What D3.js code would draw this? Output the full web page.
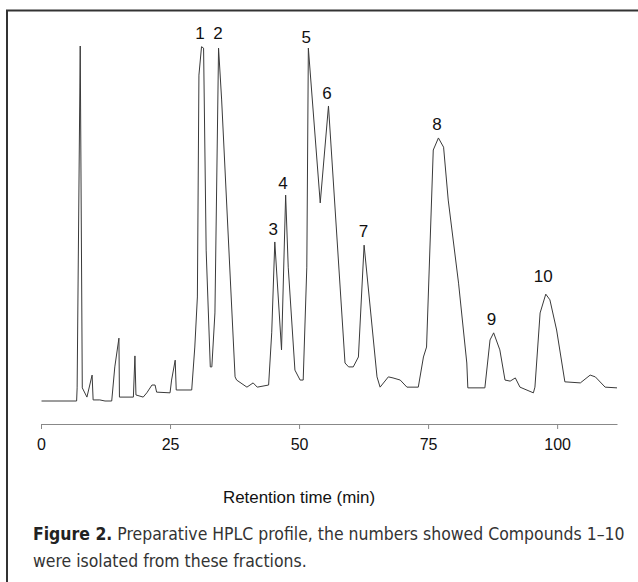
<!DOCTYPE html>
<html>
<head>
<meta charset="utf-8">
<script src="https://cdn.jsdelivr.net/npm/d3@7"></script>
<style>
  html, body { margin: 0; padding: 0; background: #fff; }
  svg { display: block; }
</style>
</head>
<body>
<svg width="638" height="582"></svg>
<script>
// chromatogram trace (time in min, relative signal)
const times = [0.1, 6.9, 7.0, 7.6, 8.0, 8.9, 9.9, 10.1, 11.4, 12.4, 13.7, 14.3, 15.1, 15.2, 17.9, 18.2, 18.4,
  19.8, 20.5, 21.5, 22.1, 22.4, 25.0, 25.3, 26.0, 26.2, 29.2, 29.8, 30.3, 30.6, 31.1, 31.5, 32.0, 32.8,
  33.1, 33.7, 34.4, 35.0, 37.6, 37.9, 39.9, 41.1, 41.9, 44.1, 44.7, 45.3, 46.6, 47.4, 47.9, 49.2, 50.2,
  50.8, 51.5, 51.8, 54.1, 55.7, 58.9, 59.6, 60.5, 61.5, 62.6, 65.1, 65.7, 67.3, 68.2, 69.6, 70.9, 73.1,
  74.1, 74.7, 76.0, 77.0, 78.0, 78.9, 80.9, 82.5, 82.7, 86.0, 87.0, 87.7, 88.9, 89.9, 90.9, 91.9, 92.8,
  95.4, 95.7, 96.7, 97.8, 98.6, 99.9, 101.5, 104.5, 106.4, 107.4, 109.3, 111.6];
const signal = [0, 0, 3.7, 100, 3.7, 1.1, 7.3, 0.3, 0.3, 0, 0, 9.6, 17.7, 1.1, 1.1, 12.7, 1.7,
  1.1, 2.3, 4.5, 4.5, 2.5, 2.3, 5.9, 11.5, 3.1, 3.1, 15.2, 29.3, 91.8, 99.8, 99.4, 42.5, 9.6,
  9.6, 24.8, 99.4, 84.8, 6.8, 5.9, 3.9, 5.1, 3.9, 4.5, 19.2, 44.8, 14.4, 58.0, 37.7, 8.7, 5.9,
  5.9, 37.7, 99.4, 55.8, 83.1, 10.7, 9.6, 9.6, 12.4, 43.9, 6.8, 3.9, 6.8, 6.5, 5.9, 3.9, 3.9,
  12.4, 15.2, 70.7, 74.1, 71.5, 56.6, 33.2, 10.7, 3.7, 3.7, 17.2, 19.2, 14.4, 5.9, 5.6, 6.5, 3.9,
  2.3, 3.9, 24.8, 30.1, 28.5, 20.0, 5.4, 5.1, 7.3, 6.8, 3.9, 3.7];

// compound numbers and where they sit
const compounds = ["1", "2", "3", "4", "5", "6", "7", "8", "9", "10"];
const labelTimes = [30.8, 34.3, 45.0, 46.9, 51.4, 55.4, 62.5, 76.7, 87.3, 97.3];
const labelSignals = [102, 102, 46.8, 59.7, 100.8, 85.1, 46.2, 76.3, 21.4, 33.5];

const xTicks = [0, 25, 50, 75, 100];
const xTitle = "Retention time (min)";
const captionBold = "Figure 2.";
const captionLine1 = " Preparative HPLC profile, the numbers showed Compounds 1\u201310";
const captionLine2 = "were isolated from these fractions.";

const svg = d3.select("svg");

// outer frame, runs off the right and bottom edges
svg.append("rect")
  .attr("x", 7).attr("y", 10.5)
  .attr("width", 700).attr("height", 700)
  .attr("fill", "none")
  .attr("stroke", "#333")
  .attr("stroke-width", 2);

const x = d3.scaleLinear().domain([0, 111.6]).range([41, 617]);
const y = d3.scaleLinear().domain([0, 100]).range([401, 46]);

const pts = times.map((t, i) => [t, signal[i]]);
const line = d3.line().x(d => x(d[0])).y(d => y(d[1]));

svg.append("path")
  .datum(pts)
  .attr("d", line)
  .attr("fill", "none")
  .attr("stroke", "#3a3a3a")
  .attr("stroke-width", 1)
  .attr("stroke-linejoin", "round");

svg.selectAll("text.peak")
  .data(compounds)
  .join("text")
  .attr("class", "peak")
  .attr("x", (d, i) => x(labelTimes[i]))
  .attr("y", (d, i) => y(labelSignals[i]))
  .attr("text-anchor", "middle")
  .style("font-family", "Liberation Sans, Arial, sans-serif")
  .style("font-size", "17px")
  .attr("fill", "#111")
  .text(d => d);

// x axis
const axis = svg.append("g")
  .attr("transform", "translate(0,424)")
  .call(d3.axisBottom(x).tickValues(xTicks).tickSize(5).tickSizeOuter(0).tickPadding(10));
axis.select(".domain").attr("stroke", "#888");
axis.selectAll(".tick line").attr("stroke", "#888");
axis.selectAll(".tick text")
  .style("font-family", "Liberation Sans, Arial, sans-serif")
  .style("font-size", "16px")
  .attr("fill", "#111");

svg.append("text")
  .attr("x", 299).attr("y", 503)
  .attr("text-anchor", "middle")
  .style("font-family", "Liberation Sans, Arial, sans-serif")
  .style("font-size", "16px")
  .attr("fill", "#111")
  .attr("textLength", 152)
  .attr("lengthAdjust", "spacingAndGlyphs")
  .text(xTitle);

// caption: size the font so line one spans the same width as the original
const capWidth = 592;
const baseSize = 18.5;
const cap = svg.append("text")
  .attr("x", 33).attr("y", 540)
  .style("font-family", "DejaVu Sans Condensed, sans-serif")
  .style("font-size", baseSize + "px")
  .attr("fill", "#333");
cap.append("tspan").style("font-weight", "bold").attr("fill", "#222").text(captionBold);
cap.append("tspan").text(captionLine1);
const w = cap.node().getComputedTextLength();
const capSize = baseSize * capWidth / w;
cap.style("font-size", capSize + "px");

svg.append("text")
  .attr("x", 33).attr("y", 567)
  .style("font-family", "DejaVu Sans Condensed, sans-serif")
  .style("font-size", capSize + "px")
  .attr("fill", "#333")
  .text(captionLine2);
</script>
</body>
</html>
